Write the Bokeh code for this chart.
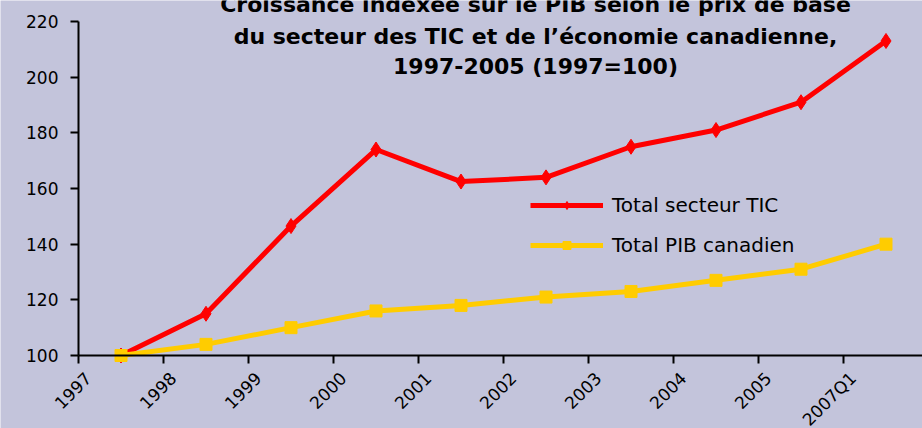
import math
from bokeh.plotting import figure
from bokeh.core.properties import value
from bokeh.models import FixedTicker, Range1d, Label, LabelSet, Legend, LegendItem, ColumnDataSource
from bokeh.embed import file_html
from bokeh.resources import INLINE

categories = ["1997", "1998", "1999", "2000", "2001", "2002", "2003", "2004", "2005", "2007Q1"]
tic_values = [100, 115, 146.5, 174, 162.5, 164, 175, 181, 191, 213]
pib_values = [100, 104, 110, 116, 118, 121, 123, 127, 131, 140]
y_ticks = [100, 120, 140, 160, 180, 200, 220]
title_lines = [
    "Croissance indexée sur le PIB selon le prix de base",
    "du secteur des TIC et de l\u2019économie canadienne,",
    "1997-2005 (1997=100)",
]

BG = "#C3C4DB"
FONT = "DejaVu Sans"
PX_X = 85.0            # pixels per category
PX_Y = 334.0 / 120.0   # pixels per index point

xs = [i + 0.5 for i in range(len(categories))]
src = ColumnDataSource(dict(x=xs, tic=tic_values, pib=pib_values))

# frame covers the whole canvas; the axes are pinned at x=0 and y=100
p = figure(width=922, height=428, output_backend="svg", toolbar_location=None,
           x_range=Range1d(-78 / PX_X, 844 / PX_X),
           y_range=Range1d(100 - 73 / PX_Y, 100 + 355 / PX_Y),
           min_border_left=0, min_border_right=0, min_border_top=0, min_border_bottom=0,
           background_fill_color=BG, border_fill_color=BG, outline_line_color=None)

p.xgrid.visible = False
p.ygrid.visible = False

r_tic = p.line("x", "tic", source=src, line_color="#FF0000", line_width=5)
m_tic = p.scatter("x", "tic", source=src, marker="diamond", size=15, fill_color="#FF0000", line_color="#FF0000")
r_pib = p.line("x", "pib", source=src, line_color="#FFCC00", line_width=5)
m_pib = p.scatter("x", "pib", source=src, marker="square", size=12, fill_color="#FFCC00", line_color="#FFCC00")

# axes
p.yaxis.ticker = FixedTicker(ticks=y_ticks)
p.yaxis.bounds = (100, 220)
p.yaxis.fixed_location = 0
p.xaxis.ticker = FixedTicker(ticks=list(range(len(categories))))
p.xaxis.major_label_overrides = {i: "" for i in range(len(categories))}
p.xaxis.bounds = (0, 10)
p.xaxis.fixed_location = 100
for ax in (p.xaxis[0], p.yaxis[0]):
    ax.axis_line_color = "black"
    ax.axis_line_width = 2
    ax.major_tick_line_color = "black"
    ax.major_tick_line_width = 2
    ax.major_tick_out = 8
    ax.major_tick_in = 0
    ax.minor_tick_line_color = None
p.yaxis.major_label_text_font = FONT
p.yaxis.major_label_text_font_size = "17px"
p.yaxis.major_label_text_color = "black"
p.yaxis.major_label_standoff = 12

# rotated category labels, ending just right of each tick mark
lab_src = ColumnDataSource(dict(x=[i + 0.113 for i in range(len(categories))],
                                y=[100 - 19.6 / PX_Y] * len(categories), text=categories))
p.add_layout(LabelSet(x="x", y="y", text="text", source=lab_src, angle=math.pi / 4,
                      text_align="right", text_baseline="middle", text_font=value(FONT),
                      text_font_size=value("17px"), text_color="black"))

legend = Legend(items=[
    LegendItem(label="Total secteur TIC", renderers=[r_tic, m_tic]),
    LegendItem(label="Total PIB canadien", renderers=[r_pib, m_pib]),
], location=(530, 171), background_fill_alpha=0, border_line_color=None,
    padding=0, margin=0, spacing=16, glyph_width=73, glyph_height=20, label_height=20,
    label_text_font=FONT, label_text_font_size="20px", label_text_color="black", label_standoff=9)
p.add_layout(legend, "center")

# title lines drawn over the plot
title_y = [226.0, 214.5, 203.7]
for t, y in zip(title_lines, title_y):
    p.add_layout(Label(x=(535 - 78) / PX_X, y=y, text=t, text_align="center", text_baseline="alphabetic",
                       text_font=FONT, text_font_style="bold", text_font_size="22px",
                       text_color="black"))

open("out.html", "w").write(file_html(p, INLINE))
